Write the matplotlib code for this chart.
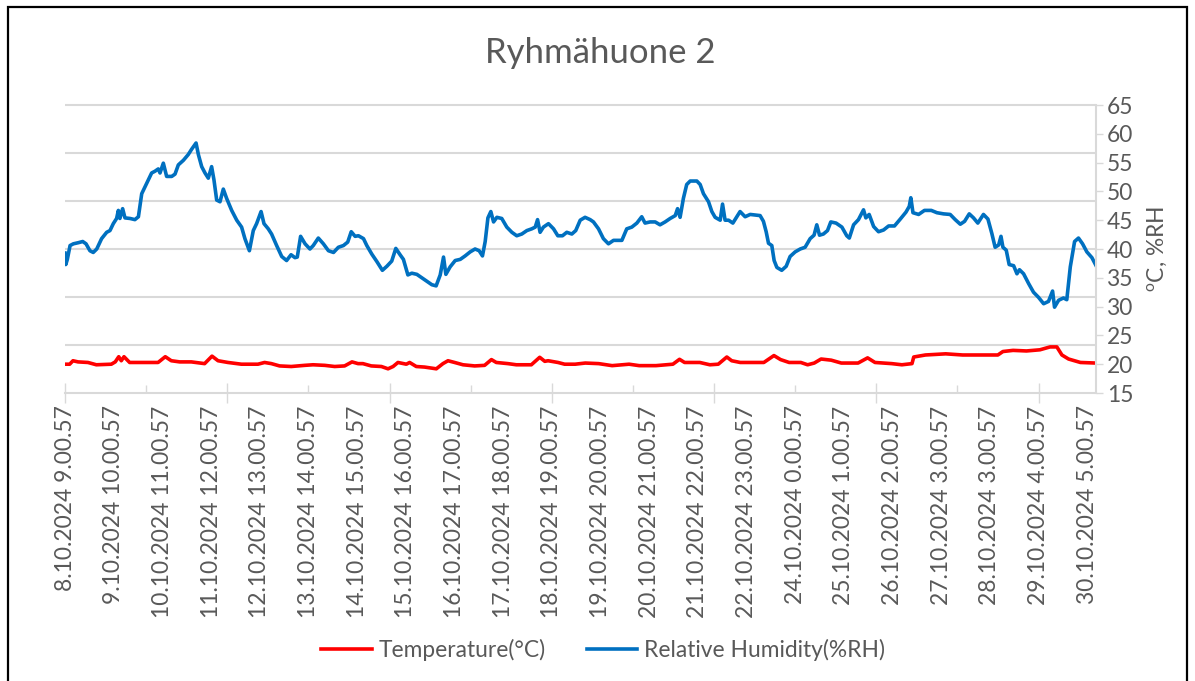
import numpy as np
import matplotlib
matplotlib.use('Agg')
import matplotlib.pyplot as plt
from matplotlib.patches import Rectangle
from matplotlib.lines import Line2D
from matplotlib.ticker import MultipleLocator

plt.rcParams['font.family'] = ['Lato', 'DejaVu Sans']

# hours since 8.10.2024 9.00.57
rh_hours = [0.0, 0.4, 1.2, 2.6, 4.3, 6.9, 9.1, 10.8, 12.8, 14.5, 16.3, 18.8, 21.4, 23.1, 24.8,
            26.5, 27.4, 28.2, 29.6, 30.8, 33.4, 35.9, 37.7, 39.4, 41.1, 42.8, 44.5, 46.2, 47.9,
            48.8, 50.5, 52.2, 54.8, 56.5, 58.2, 60.8, 63.3, 65.0, 67.3, 68.5, 70.2, 71.9, 73.6,
            75.3, 76.5, 77.9, 79.6, 81.3, 83.0, 85.6, 88.2, 90.7, 92.4, 94.7, 96.7, 98.4, 100.7,
            102.2, 104.4, 106.1, 108.7, 111.3, 113.8, 116.1, 118.1, 119.3, 121.0, 123.3, 125.8,
            127.5, 130.1, 132.7, 135.3, 137.9, 140.4, 143.0, 145.2, 147.0, 149.0, 150.7, 153.3,
            155.0, 157.6, 160.2, 163.0, 165.3, 167.8, 169.9, 172.1, 173.8, 176.1, 178.1, 180.7,
            183.3, 185.8, 188.4, 190.6, 192.7, 194.4, 195.6, 197.8, 200.4, 203.0, 205.5, 208.1,
            210.6, 212.7, 214.4, 215.8, 217.2, 218.7, 220.1, 221.8, 224.3, 226.9, 229.5, 232.0,
            234.6, 237.2, 239.7, 241.5, 242.7, 244.0, 245.7, 248.3, 250.9, 253.1, 255.5, 257.7,
            260.3, 262.3, 264.6, 267.1, 269.7, 271.4, 274.0, 276.5, 279.1, 281.7, 284.3, 286.0,
            288.5, 291.1, 293.7, 296.2, 297.9, 300.5, 303.1, 305.6, 308.2, 310.8, 313.4, 314.6,
            315.9, 317.6, 319.3, 321.1, 324.5, 326.2, 327.9, 330.5, 332.2, 333.9, 336.5, 337.7,
            339.0, 340.8, 343.0, 345.0, 346.7, 349.3, 351.9, 354.4, 357.0, 358.7, 360.1, 361.3,
            363.0, 364.2, 365.6, 368.1, 370.4, 372.4, 375.0, 377.6, 380.1, 382.7, 384.7, 386.1,
            387.5, 389.5, 391.6, 393.3, 396.0, 399.0, 401.5, 402.8, 405.0, 407.5, 410.1, 411.3,
            413.0, 415.3, 417.8, 420.4, 423.0, 426.0, 429.0, 431.9, 433.6, 434.4, 435.5, 438.4,
            441.4, 444.9, 447.8, 451.2, 454.6, 457.2, 459.8, 462.0, 464.4, 466.6, 468.8, 471.7,
            474.0, 476.0, 477.7, 479.5, 480.7, 481.7, 483.4, 484.9, 487.2, 488.9, 490.2, 492.3,
            494.9, 497.4, 500.0, 502.6, 505.1, 507.2, 508.2, 510.3, 512.8, 514.5, 516.3, 518.5,
            520.5, 522.6, 524.8, 527.4, 529.4]
rh_values = [39.3, 37.3, 38.2, 40.6, 40.9, 41.1, 41.3, 40.9, 39.7, 39.4, 40.0, 41.8, 42.9, 43.2, 44.4,
             45.3, 46.7, 45.3, 47.0, 45.4, 45.3, 45.1, 45.6, 49.6, 50.8, 52.0, 53.2, 53.5, 53.9,
             53.2, 54.9, 52.6, 52.6, 53.0, 54.6, 55.4, 56.4, 57.3, 58.4, 56.4, 54.3, 53.2, 52.3,
             54.3, 52.0, 48.5, 48.2, 50.4, 48.8, 46.7, 45.0, 43.8, 41.8, 39.7, 43.2, 44.4, 46.5,
             44.4, 43.5, 42.6, 40.6, 38.7, 38.0, 39.0, 38.5, 38.6, 42.2, 40.9, 40.0,
             40.6, 41.9, 40.9, 39.7, 39.4, 40.3, 40.6, 41.2, 43.0, 42.2, 42.3, 41.8,
             40.6, 39.1, 37.8, 36.3, 37.0, 37.9, 40.1, 39.0, 38.2, 35.5, 35.8, 35.6,
             35.0, 34.4, 33.8, 33.6, 35.5, 38.6, 35.6, 36.9, 38.0, 38.2, 38.8, 39.5,
             40.0, 39.7, 38.8, 41.3, 45.4, 46.5, 44.7, 45.5, 45.3, 43.8, 42.9, 42.3,
             42.6, 43.2, 43.5, 43.8, 45.1, 42.9, 43.8, 44.4, 43.5, 42.3, 42.3, 42.9,
             42.6, 43.2, 45.0, 45.5, 45.1, 44.7, 43.5, 41.8, 40.9, 41.5, 41.5, 41.5,
             43.5, 43.8, 44.5, 45.6, 44.5, 44.7, 44.7, 44.2, 44.7, 45.3, 45.8, 47.0,
             45.5, 48.8, 51.2, 51.8, 51.8, 51.2, 49.6, 48.2, 46.5, 45.5, 45.0, 47.8,
             45.0, 45.0, 44.5, 45.6, 46.5, 45.6, 46.0, 45.9, 45.8, 44.8, 43.0, 41.0,
             40.6, 38.0, 36.8, 36.3, 37.0, 38.7, 39.5, 40.0, 40.3, 41.8, 42.4, 44.2,
             42.4, 42.6, 43.2, 44.7, 44.5, 43.8, 42.3, 41.9, 44.2, 45.1, 46.8, 45.4,
             46.0, 43.9, 43.0, 43.3, 44.0, 44.0, 45.2, 46.4, 47.4, 48.9, 46.3, 46.0,
             46.7, 46.7, 46.3, 46.1, 46.0, 45.1, 44.3, 44.8, 46.1, 45.4, 44.5, 46.0,
             45.2, 42.7, 40.3, 40.7, 42.2, 40.3, 39.8, 37.3, 37.1, 35.7, 36.4, 35.7,
             34.0, 32.5, 31.6, 30.5, 30.9, 32.7, 29.9, 31.1, 31.5, 31.2, 36.9, 41.3,
             41.9, 40.9, 39.5, 38.5, 37.2]

temp_hours = [0.0, 2.4, 4.1, 6.7, 11.8, 16.1, 23.8, 25.8, 27.6, 28.9, 30.3, 33.2, 47.8, 51.5,
              54.6, 58.9, 64.9, 71.7, 75.5, 78.6, 83.7, 90.6, 99.1, 102.5, 106.0, 110.2, 116.2,
              123.1, 127.4, 133.4, 138.5, 143.6, 147.4, 150.5, 153.0, 157.3, 162.5, 165.9, 168.5,
              171.0, 175.3, 177.0, 180.4, 184.7, 190.7, 194.1, 196.7, 200.1, 204.4, 210.4, 215.5,
              219.0, 221.5, 227.5, 231.8, 239.5, 243.8, 246.4, 248.1, 253.2, 256.6, 262.0, 267.2,
              274.1, 281.0, 289.7, 294.9, 303.5, 312.2, 315.6, 318.2, 326.0, 331.2, 335.5, 339.9,
              342.4, 346.8, 358.9, 364.1, 367.5, 371.9, 377.9, 381.4, 384.8, 388.3, 393.5, 398.7,
              407.3, 412.2, 416.0, 424.6, 429.8, 435.0, 435.9, 441.9, 447.1, 452.3, 461.0, 469.6,
              479.1, 481.7, 486.9, 493.8, 500.7, 505.9, 509.4, 512.0, 515.4, 521.5, 529.4]
temp_values = [20.0, 20.0, 20.6, 20.4, 20.3, 19.9, 20.0, 20.4, 21.3, 20.6, 21.3, 20.3, 20.3, 21.3,
               20.6, 20.4, 20.4, 20.1, 21.4, 20.6, 20.3, 20.0, 20.0, 20.3, 20.1, 19.7, 19.6,
               19.8, 19.9, 19.8, 19.6, 19.7, 20.4, 20.1, 20.1, 19.7, 19.6, 19.2, 19.6,
               20.3, 20.0, 20.3, 19.6, 19.5, 19.2, 20.1, 20.6, 20.3, 19.9, 19.7, 19.8,
               20.8, 20.3, 20.1, 19.9, 19.9, 21.2, 20.5, 20.6, 20.3, 20.0, 20.0, 20.2,
               20.1, 19.75, 20.0, 19.75, 19.75, 20.0, 20.85, 20.3, 20.3, 19.9, 20.0, 21.25,
               20.6, 20.3, 20.3, 21.5, 20.8, 20.3, 20.3, 19.9, 20.2, 20.9, 20.7, 20.2,
               20.2, 21.1, 20.3, 20.1, 19.9, 20.1, 21.25, 21.6, 21.7, 21.8, 21.6, 21.6,
               21.6, 22.2, 22.4, 22.3, 22.5, 23.0, 23.0, 21.6, 20.9, 20.3, 20.2]

x_labels = ['8.10.2024 9.00.57', '9.10.2024 10.00.57', '10.10.2024 11.00.57', '11.10.2024 12.00.57',
            '12.10.2024 13.00.57', '13.10.2024 14.00.57', '14.10.2024 15.00.57', '15.10.2024 16.00.57',
            '16.10.2024 17.00.57', '17.10.2024 18.00.57', '18.10.2024 19.00.57', '19.10.2024 20.00.57',
            '20.10.2024 21.00.57', '21.10.2024 22.00.57', '22.10.2024 23.00.57', '24.10.2024 0.00.57',
            '25.10.2024 1.00.57', '26.10.2024 2.00.57', '27.10.2024 3.00.57', '28.10.2024 3.00.57',
            '29.10.2024 4.00.57', '30.10.2024 5.00.57']
label_step = 25  # hours between axis labels

GRAY_TXT = '#595959'
GRAY_LN = '#D9D9D9'
FS = 16.4
LW = 2.6

fig = plt.figure(figsize=(11.95, 6.81), dpi=100)
fig.patches.append(Rectangle((8/1195, -0.05), (1187-8)/1195, 1 - 7/681 + 0.05,
                             transform=fig.transFigure, fill=False, ec='black', lw=1.6))

ax = fig.add_axes([65/1195, 1 - 393/681, (1096-65)/1195, (393-105)/681])

# gridlines belong to the hidden primary axis (6 divisions)
ax.hlines(np.linspace(15, 65, 7)[1:], 0, 529.5, color=GRAY_LN, lw=1.5, clip_on=False, zorder=0)

ax.plot(temp_hours, temp_values, color='#FF0000', lw=LW, label='Temperature(°C)')
ax.plot(rh_hours, rh_values, color='#0070C0', lw=LW, label='Relative Humidity(%RH)')

ax.set_xlim(0, 529.5)
ax.set_ylim(15, 65)

# right value axis
ax.yaxis.tick_right()
ax.yaxis.set_label_position('right')
ax.set_yticks(np.arange(15, 66, 5))
ax.tick_params(axis='y', which='major', direction='out', length=5, width=1, color=GRAY_LN,
               labelcolor=GRAY_TXT, labelsize=FS, pad=3)
ax.set_ylabel(r'$^{\mathregular{o}}$C, %RH', color=GRAY_TXT, fontsize=FS, labelpad=8)

# tick marks on the category axis
ax.xaxis.set_major_locator(MultipleLocator(250/3))
ax.xaxis.set_minor_locator(MultipleLocator(125/3))
ax.tick_params(axis='x', which='major', direction='inout', length=14, width=1, color=GRAY_LN,
               labelbottom=False)
ax.tick_params(axis='x', which='minor', direction='in', length=6, width=1, color=GRAY_LN)

sec = ax.secondary_xaxis('bottom')
sec.set_xticks(np.arange(len(x_labels)) * label_step, x_labels, rotation=90)
sec.tick_params(length=0, pad=9, labelsize=FS, labelcolor=GRAY_TXT)
sec.spines['bottom'].set_visible(False)

for s in ['left', 'top']:
    ax.spines[s].set_visible(False)
for s in ['right', 'bottom']:
    ax.spines[s].set_color(GRAY_LN)
    ax.spines[s].set_linewidth(1.5)

fig.text(600/1195, 1 - 53/681, 'Ryhmähuone 2', ha='center', va='center', fontsize=25, color=GRAY_TXT)

handles = [Line2D([], [], color='#FF0000', lw=LW), Line2D([], [], color='#0070C0', lw=LW)]
fig.legend(handles, ['Temperature(°C)', 'Relative Humidity(%RH)'], loc='center',
           bbox_to_anchor=(603/1195, 1 - 650/681), ncol=2, frameon=False, fontsize=FS,
           labelcolor=GRAY_TXT, handlelength=2.2, handletextpad=0.3, columnspacing=1.8)

plt.savefig('out.png', dpi=100)
